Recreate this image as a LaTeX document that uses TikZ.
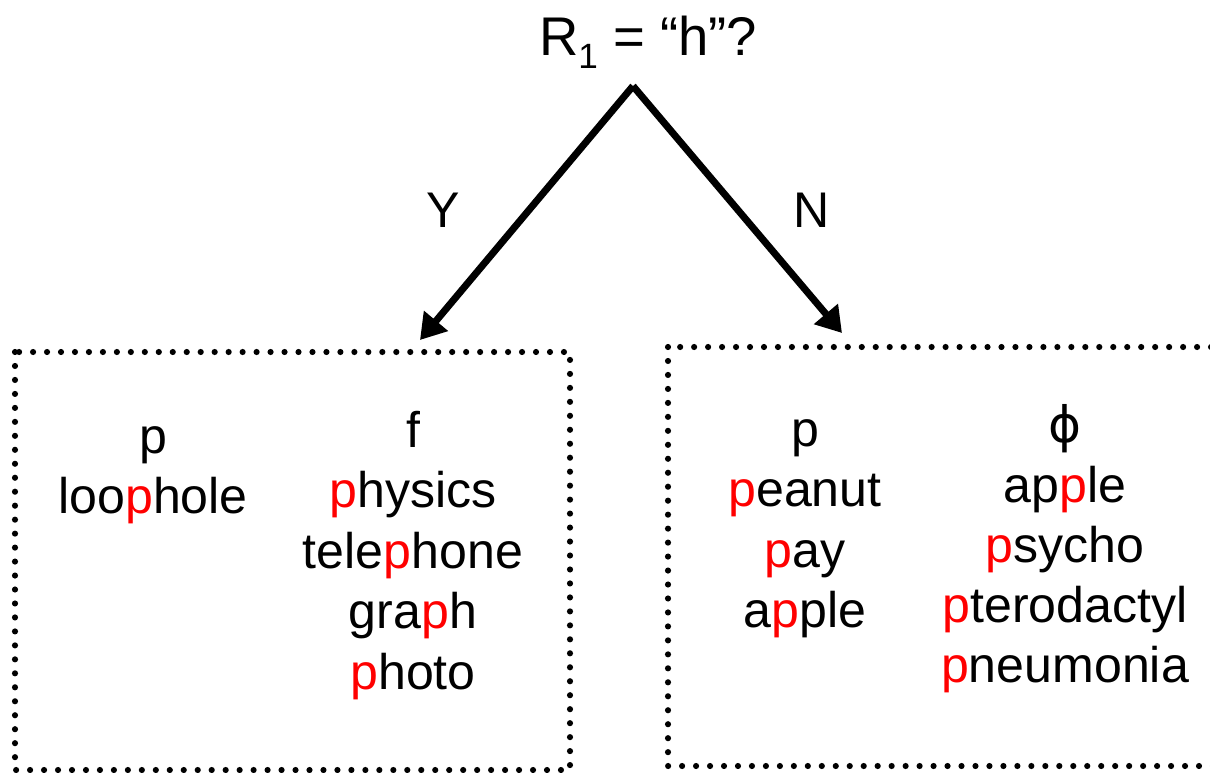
\documentclass[tikz,border=0pt]{standalone}
\usepackage{fontspec}
\setmainfont{Liberation Sans}
\newfontfamily\symfont{DejaVu Sans}
\usepackage{xcolor}
\usepackage{tikz}
\usetikzlibrary{arrows.meta, positioning}

\newcommand{\rp}{\textcolor{red}{p}}

\tikzset{
  word/.style={font=\fontsize{28.5}{34}\selectfont, inner sep=0pt, anchor=base},
  dotbox/.style={line width=3.5pt, line cap=round, dash pattern=on 0pt off 7.95pt},
  branch/.style={line width=4pt, -{Triangle[length=0.5cm, width=0.6cm]}},
}

\begin{document}
\begin{tikzpicture}
    \useasboundingbox (0,0) rectangle (24.2,-15.44);
    \clip (0,0) rectangle (24.2,-15.44);
    % question and branches
    \node[word, font=\fontsize{31}{36}\selectfont] (ask) at (12.96,-1.1)
        {R\raisebox{-7.4pt}{\fontsize{20}{20}\selectfont 1} = “h”?};
    \coordinate (apex) at (12.66,-1.72);
    \coordinate (ytip) at (8.4,-6.8);
    \coordinate (ntip) at (16.84,-6.66);
    \draw[branch] (apex) -- (ytip);
    \draw[branch] (apex) -- (ntip);
    \node[word, anchor=center] (yes) at (8.86,-4.2) {Y};
    \node[word, anchor=center] (no) at (16.24,-4.2) {N};
    % dotted boxes
    \draw[dotbox] (0.3,-7.04) rectangle (11.4,-15.4);
    \draw[dotbox] (13.36,-6.94) rectangle (24.8,-15.32);
    % yes box
    \foreach \w [count=\i from 0] in {p, loo\rp hole}
        \node[word] (ypp\i) at (3.06,-9.06-1.2*\i) {\w};
    \foreach \w [count=\i from 0] in {f, \rp hysics, tele\rp hone, gra\rp h, \rp hoto}
        \node[word] (ypf\i) at (8.26,-8.94-1.21*\i) {\w};
    % no box
    \foreach \w [count=\i from 0] in {p, \rp eanut, \rp ay, a\rp ple}
        \node[word] (npp\i) at (16.1,-8.92-1.21*\i) {\w};
    \foreach \w [count=\i from 0] in {{\symfont ϕ}, ap\rp le, \rp sycho, \rp terodactyl, \rp neumonia}
        \node[word] (npn\i) at (21.3,-8.84-1.2*\i) {\w};
\end{tikzpicture}
\end{document}
